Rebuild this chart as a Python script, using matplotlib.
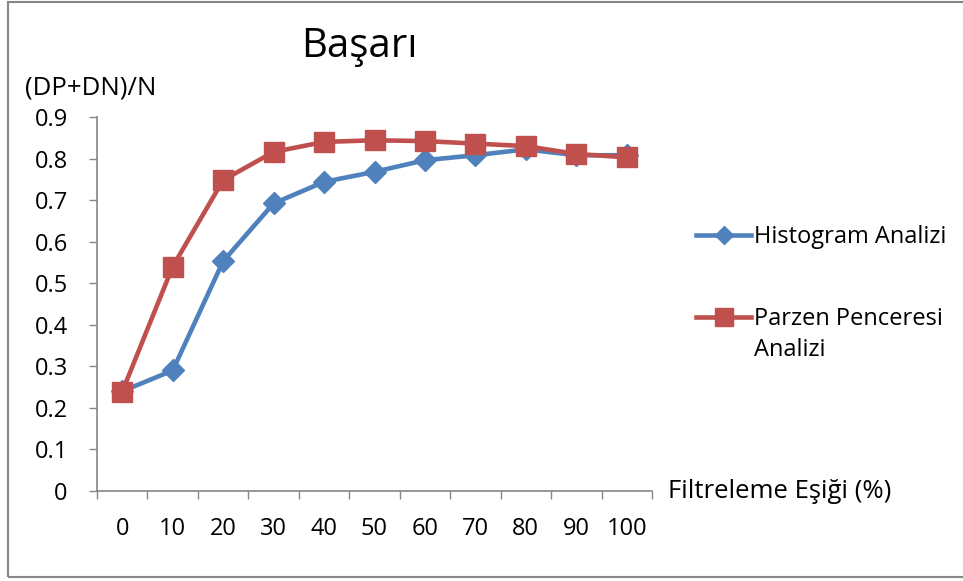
import matplotlib.pyplot as plt
from matplotlib.patches import Rectangle

plt.rcParams['font.family'] = ['Open Sans', 'DejaVu Sans']

# --- data ---
thresholds = ["0", "10", "20", "30", "40", "50", "60", "70", "80", "90", "100"]
histogram = [0.240, 0.290, 0.553, 0.692, 0.744, 0.768, 0.796, 0.808, 0.822, 0.808, 0.808]
parzen = [0.239, 0.540, 0.748, 0.816, 0.840, 0.844, 0.842, 0.836, 0.830, 0.811, 0.803]
y_ticks = [0, 0.1, 0.2, 0.3, 0.4, 0.5, 0.6, 0.7, 0.8, 0.9]

BLUE = "#4F81BD"
RED = "#C0504D"
GRAY = "#868686"
FS = 17        # tick labels / legend
FS_AX = 18.5   # axis titles

fig = plt.figure(figsize=(9.63, 5.81), dpi=100)
ax = fig.add_axes([97 / 963, 1 - 491 / 581, (652 - 97) / 963, (491 - 117) / 581])

x = list(range(len(thresholds)))
ax.plot(x, histogram, color=BLUE, lw=3.3, marker="D", markersize=11,
        label="Histogram Analizi", zorder=3)
ax.plot(x, parzen, color=RED, lw=3.3, marker="s", markersize=14.5,
        label="Parzen Penceresi", zorder=4)

ax.set_xlim(-0.5, len(thresholds) - 0.5)
ax.set_ylim(0, 0.9)

# category boundaries as tick marks, labels centred under each category
ax.set_xticks([i - 0.5 for i in range(len(thresholds) + 1)])
ax.set_xticklabels([])
ax.set_xticks(x, minor=True)
ax.set_xticklabels(thresholds, minor=True, fontsize=FS)
ax.tick_params(axis="x", which="major", direction="out", length=6, color=GRAY, width=1)
ax.tick_params(axis="x", which="minor", length=0, pad=19)

ax.set_yticks(y_ticks)
ax.set_yticklabels(["0" if v == 0 else f"{v:.1f}" for v in y_ticks], fontsize=FS)
ax.tick_params(axis="y", direction="out", length=6, color=GRAY, width=1, pad=15)

for side in ("top", "right"):
    ax.spines[side].set_visible(False)
for side in ("left", "bottom"):
    ax.spines[side].set_color(GRAY)
    ax.spines[side].set_linewidth(1.2)

fig.text(359 / 963, 1 - 47 / 581, "Başarı", fontsize=29, ha="center", va="center")
fig.text(25 / 963, 1 - 88 / 581, "(DP+DN)/N", fontsize=FS_AX, ha="left", va="center")
fig.text(668 / 963, 1 - 491 / 581, "Filtreleme Eşiği (%)", fontsize=FS_AX, ha="left", va="center")

leg = fig.legend(loc="upper left", bbox_to_anchor=(687 / 963, 1 - 216 / 581),
                 frameon=False, fontsize=FS, handlelength=2.3, handletextpad=0.15,
                 labelspacing=2.45, borderaxespad=0, markerscale=0.85)

# second line of the Parzen label sits under the first, handle stays on line one
fig.canvas.draw()
bb = leg.get_texts()[1].get_window_extent()
fig.text(bb.x0 / 963, (bb.y0 + bb.y1) / 2 / 581 - 31 / 581, "Analizi",
         fontsize=FS, ha="left", va="center")

# chart-area border (Excel style)
fig.patches.append(Rectangle((8 / 963, 4 / 581), 1.2, 1 - 6 / 581,
                             transform=fig.transFigure, fill=False,
                             edgecolor=GRAY, lw=1.5))

fig.savefig("out.png", dpi=100)
